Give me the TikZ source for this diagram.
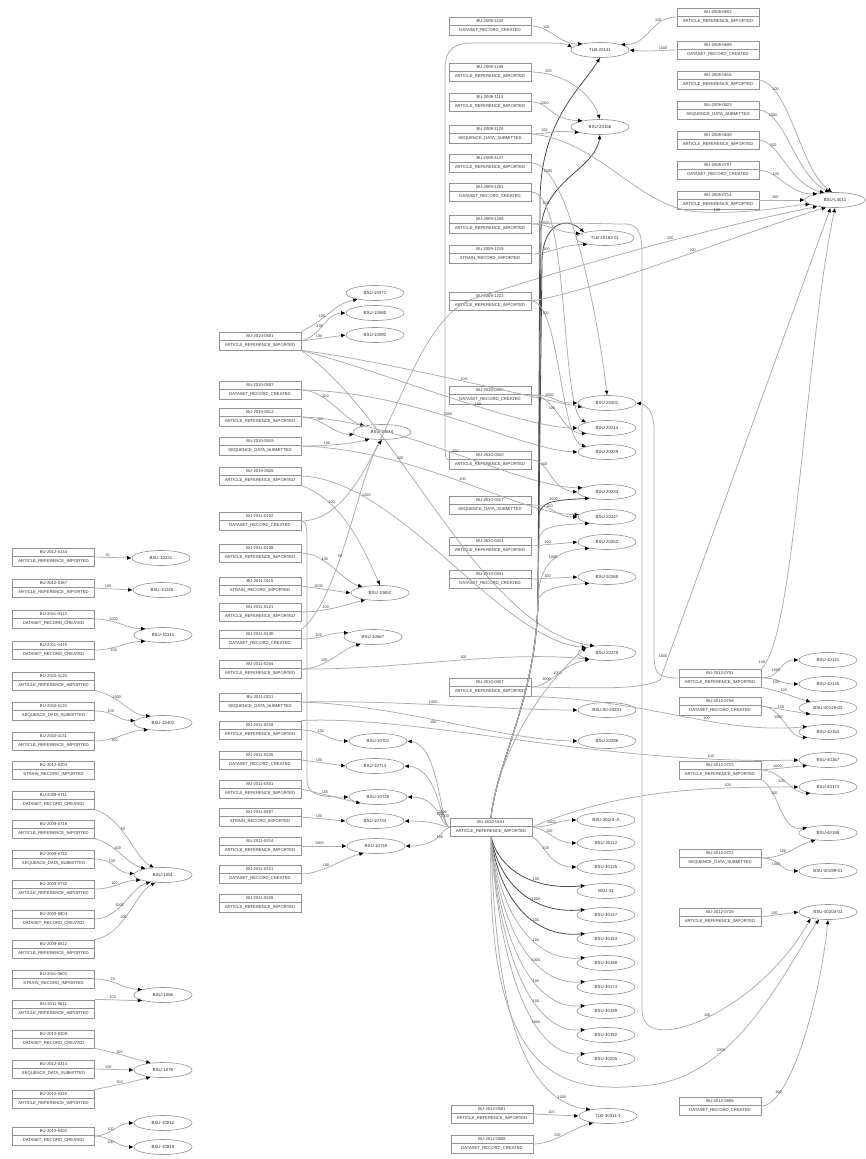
\documentclass[tikz,border=0pt]{standalone}
\usepackage{fontspec}
\setsansfont{Liberation Sans}
\usetikzlibrary{shapes.geometric,shapes.multipart,arrows.meta}
\newcommand\bt[2]{#1\nodepart{two}#2}
\begin{document}
\begin{tikzpicture}[x=1pt,y=-1pt,
 bx/.style={draw=gray!85, line width=0.6pt, rectangle split, rectangle split parts=2, minimum width=82pt, inner xsep=1pt, inner ysep=2.6pt, font=\fontsize{4.2}{5}\selectfont\sffamily, text=gray!40!black},
 el/.style={draw=gray!85, line width=0.6pt, ellipse, minimum width=58pt, minimum height=15pt, inner sep=0pt, font=\fontsize{4.4}{5}\selectfont\sffamily, text=gray!40!black},
 e/.style={draw=gray!65, line width=0.75pt, -{Latex[length=4.5pt,width=4pt,color=black]}},
 eb/.style={e, draw=gray!60!black, line width=0.8pt},
 lab/.style={font=\fontsize{3.8}{4}\selectfont\sffamily, text=gray!45!black, inner sep=0.8pt}]
\path[use as bounding box, fill=white] (0,0) rectangle (865,1159);

% ---------- left column boxes
\node[bx] (L1) at (53.5,557) {\bt{BU-2012-0134}{ARTICLE\_REFERENCE\_IMPORTED}};
\node[bx] (L2) at (53.5,588) {\bt{BU-2012-0187}{ARTICLE\_REFERENCE\_IMPORTED}};
\node[bx] (L3) at (53.5,619) {\bt{BU-2011-0412}{DATASET\_RECORD\_CREATED}};
\node[bx] (L4) at (53.5,650) {\bt{BU-2011-0419}{DATASET\_RECORD\_CREATED}};
\node[bx] (L5) at (53.5,681) {\bt{BU-2010-1120}{ARTICLE\_REFERENCE\_IMPORTED}};
\node[bx] (L6) at (53.5,711) {\bt{BU-2010-1124}{SEQUENCE\_DATA\_SUBMITTED}};
\node[bx] (L7) at (53.5,741) {\bt{BU-2010-1131}{ARTICLE\_REFERENCE\_IMPORTED}};
\node[bx] (L8) at (53.5,770) {\bt{BU-2012-0203}{STRAIN\_RECORD\_IMPORTED}};
\node[bx] (L9) at (53.5,800) {\bt{BU-2009-0711}{DATASET\_RECORD\_CREATED}};
\node[bx] (L10) at (53.5,829) {\bt{BU-2009-0716}{ARTICLE\_REFERENCE\_IMPORTED}};
\node[bx] (L11) at (53.5,859) {\bt{BU-2009-0722}{SEQUENCE\_DATA\_SUBMITTED}};
\node[bx] (L12) at (53.5,889) {\bt{BU-2009-0730}{ARTICLE\_REFERENCE\_IMPORTED}};
\node[bx] (L13) at (53.5,919) {\bt{BU-2009-0804}{DATASET\_RECORD\_CREATED}};
\node[bx] (L14) at (53.5,949) {\bt{BU-2009-0812}{ARTICLE\_REFERENCE\_IMPORTED}};
\node[bx] (L15) at (53.5,979) {\bt{BU-2011-0603}{STRAIN\_RECORD\_IMPORTED}};
\node[bx] (L16) at (53.5,1009) {\bt{BU-2011-0611}{ARTICLE\_REFERENCE\_IMPORTED}};
\node[bx] (L17) at (53.5,1039) {\bt{BU-2012-0309}{DATASET\_RECORD\_CREATED}};
\node[bx] (L18) at (53.5,1069) {\bt{BU-2012-0314}{SEQUENCE\_DATA\_SUBMITTED}};
\node[bx] (L19) at (53.5,1099) {\bt{BU-2012-0320}{ARTICLE\_REFERENCE\_IMPORTED}};
\node[bx] (L20) at (53.5,1136) {\bt{BU-2012-0402}{DATASET\_RECORD\_CREATED}};
% left ellipses
\node[el] (A1) at (161,558) {BSU-10231};
\node[el] (A2) at (162,590) {BSU-10245};
\node[el] (A3) at (163,635) {BSU-10311};
\node[el] (A4) at (163,723) {BSU-10402};
\node[el] (A5) at (163,875) {BSU-1051};
\node[el] (A6) at (163,995) {BSU-1066};
\node[el] (A7) at (163,1070) {BSU-1078};
\node[el] (A8) at (163,1123) {BSU-10812};
\node[el] (A9) at (163,1147) {BSU-10819};

% ---------- middle column boxes
\node[bx] (M0) at (260,341) {\bt{BU-2010-0501}{ARTICLE\_REFERENCE\_IMPORTED}};
\node[bx] (M1) at (260,390) {\bt{BU-2010-0507}{DATASET\_RECORD\_CREATED}};
\node[bx] (M2) at (260,417) {\bt{BU-2010-0512}{ARTICLE\_REFERENCE\_IMPORTED}};
\node[bx] (M3) at (260,446) {\bt{BU-2010-0519}{SEQUENCE\_DATA\_SUBMITTED}};
\node[bx] (M4) at (260,476) {\bt{BU-2010-0526}{ARTICLE\_REFERENCE\_IMPORTED}};
\node[bx] (M5) at (260,521) {\bt{BU-2011-0102}{DATASET\_RECORD\_CREATED}};
\node[bx] (M6) at (260,553) {\bt{BU-2011-0108}{ARTICLE\_REFERENCE\_IMPORTED}};
\node[bx] (M7) at (260,586) {\bt{BU-2011-0115}{STRAIN\_RECORD\_IMPORTED}};
\node[bx] (M8) at (260,612) {\bt{BU-2011-0121}{ARTICLE\_REFERENCE\_IMPORTED}};
\node[bx] (M9) at (260,639) {\bt{BU-2011-0130}{DATASET\_RECORD\_CREATED}};
\node[bx] (M10) at (260,669) {\bt{BU-2011-0204}{ARTICLE\_REFERENCE\_IMPORTED}};
\node[bx] (M11) at (260,702) {\bt{BU-2011-0211}{SEQUENCE\_DATA\_SUBMITTED}};
\node[bx] (M12) at (260,730) {\bt{BU-2011-0218}{ARTICLE\_REFERENCE\_IMPORTED}};
\node[bx] (M13) at (260,760) {\bt{BU-2011-0225}{DATASET\_RECORD\_CREATED}};
\node[bx] (M14) at (260,789) {\bt{BU-2011-0301}{ARTICLE\_REFERENCE\_IMPORTED}};
\node[bx] (M15) at (260,817) {\bt{BU-2011-0307}{STRAIN\_RECORD\_IMPORTED}};
\node[bx] (M16) at (260,846) {\bt{BU-2011-0314}{ARTICLE\_REFERENCE\_IMPORTED}};
\node[bx] (M17) at (260,874) {\bt{BU-2011-0321}{DATASET\_RECORD\_CREATED}};
\node[bx] (M18) at (260,903) {\bt{BU-2011-0328}{ARTICLE\_REFERENCE\_IMPORTED}};
% middle ellipses
\node[el] (B1) at (375,293) {BSU-10571};
\node[el] (B2) at (375,313) {BSU-10580};
\node[el] (B3) at (375,335) {BSU-10592};
\node[el] (C1) at (382,432) {BSU-10614};
\node[el] (C2) at (380,593) {BSU-10652};
\node[el] (C3) at (373,637) {BSU-10667};
\node[el] (D1) at (378,741) {BSU-10701};
\node[el] (D2) at (375,766) {BSU-10713};
\node[el] (D3) at (378,797) {BSU-10728};
\node[el] (D4) at (375,821) {BSU-10734};
\node[el] (D5) at (376,846) {BSU-10745};

% ---------- hub and third column
\node[bx] (H) at (491,827) {\bt{BU-2010-0101}{ARTICLE\_REFERENCE\_IMPORTED}};
\node[bx] (K1) at (490,26) {\bt{BU-2009-1102}{DATASET\_RECORD\_CREATED}};
\node[bx] (K2) at (490,72) {\bt{BU-2009-1109}{ARTICLE\_REFERENCE\_IMPORTED}};
\node[bx] (K3) at (490,102) {\bt{BU-2009-1113}{ARTICLE\_REFERENCE\_IMPORTED}};
\node[bx] (K4) at (490,134) {\bt{BU-2009-1120}{SEQUENCE\_DATA\_SUBMITTED}};
\node[bx] (K5) at (490,163) {\bt{BU-2009-1127}{ARTICLE\_REFERENCE\_IMPORTED}};
\node[bx] (K6) at (490,192) {\bt{BU-2009-1201}{DATASET\_RECORD\_CREATED}};
\node[bx] (K7) at (490,224) {\bt{BU-2009-1208}{ARTICLE\_REFERENCE\_IMPORTED}};
\node[bx] (K8) at (490,254) {\bt{BU-2009-1215}{STRAIN\_RECORD\_IMPORTED}};
\node[bx] (K9) at (490,301) {\bt{BU-2009-1222}{ARTICLE\_REFERENCE\_IMPORTED}};
\node[bx] (K10) at (490,395) {\bt{BU-2010-0303}{DATASET\_RECORD\_CREATED}};
\node[bx] (K11) at (490,460) {\bt{BU-2010-0310}{ARTICLE\_REFERENCE\_IMPORTED}};
\node[bx] (K12) at (490,505) {\bt{BU-2010-0317}{SEQUENCE\_DATA\_SUBMITTED}};
\node[bx] (K13) at (490,546) {\bt{BU-2010-0324}{ARTICLE\_REFERENCE\_IMPORTED}};
\node[bx] (K14) at (490,579) {\bt{BU-2010-0331}{DATASET\_RECORD\_CREATED}};
\node[bx] (K15) at (490,687) {\bt{BU-2010-0407}{ARTICLE\_REFERENCE\_IMPORTED}};
\node[bx] (KB1) at (492,1114) {\bt{BU-2012-0501}{ARTICLE\_REFERENCE\_IMPORTED}};
\node[bx] (KB2) at (492,1144) {\bt{BU-2012-0508}{DATASET\_RECORD\_CREATED}};
% third column ellipses
\node[el] (T1) at (600,50) {TLB-20141};
\node[el] (T2) at (600,127) {BSU-20156};
\node[el] (T3) at (605,238) {TLB-20163-01};
\node[el] (G1) at (607,403) {BSU-20201};
\node[el] (G2) at (607,428) {BSU-20214};
\node[el] (G3) at (607,452) {BSU-20229};
\node[el] (G4) at (607,492) {BSU-20233};
\node[el] (G5) at (607,517) {BSU-20247};
\node[el] (G6) at (607,542) {BSU-20252};
\node[el] (G7) at (607,577) {BSU-20268};
\node[el] (G8) at (607,653) {BSU-20275};
\node[el] (G9) at (607,710) {BSU-00-20281};
\node[el] (G10) at (607,741) {BSU-20296};
\node[el] (F1) at (606,820) {BSU-30101-A};
\node[el] (F2) at (606,843) {BSU-30112};
\node[el] (F3) at (606,867) {BSU-30125};
\node[el] (F4) at (606,891) {BSU-31};
\node[el] (F5) at (606,915) {BSU-30147};
\node[el] (F6) at (606,939) {BSU-30153};
\node[el] (F7) at (606,963) {BSU-30168};
\node[el] (F8) at (606,987) {BSU-30174};
\node[el] (F9) at (606,1011) {BSU-30189};
\node[el] (F10) at (606,1035) {BSU-30192};
\node[el] (F11) at (606,1059) {BSU-30205};
\node[el] (FB) at (608,1116) {TLB-30311-1};

% ---------- right column
\node[bx] (R1) at (718,17) {\bt{BU-2008-0602}{ARTICLE\_REFERENCE\_IMPORTED}};
\node[bx] (R2) at (718,50) {\bt{BU-2008-0609}{DATASET\_RECORD\_CREATED}};
\node[bx] (R3) at (718,80) {\bt{BU-2008-0616}{ARTICLE\_REFERENCE\_IMPORTED}};
\node[bx] (R4) at (718,110) {\bt{BU-2008-0623}{SEQUENCE\_DATA\_SUBMITTED}};
\node[bx] (R5) at (718,140) {\bt{BU-2008-0630}{ARTICLE\_REFERENCE\_IMPORTED}};
\node[bx] (R6) at (718,170) {\bt{BU-2008-0707}{DATASET\_RECORD\_CREATED}};
\node[bx] (R7) at (718,200) {\bt{BU-2008-0714}{ARTICLE\_REFERENCE\_IMPORTED}};
\node[el, minimum width=60pt] (RR) at (835,200) {BSU-L4011};
\node[bx] (RL1) at (720,678) {\bt{BU-2012-0701}{ARTICLE\_REFERENCE\_IMPORTED}};
\node[bx] (RL2) at (720,706) {\bt{BU-2012-0708}{DATASET\_RECORD\_CREATED}};
\node[bx] (RL3) at (720,770) {\bt{BU-2012-0715}{ARTICLE\_REFERENCE\_IMPORTED}};
\node[bx] (RL4) at (720,858) {\bt{BU-2012-0722}{SEQUENCE\_DATA\_SUBMITTED}};
\node[bx] (RL5) at (720,917) {\bt{BU-2012-0729}{ARTICLE\_REFERENCE\_IMPORTED}};
\node[bx] (RL6) at (720,1106) {\bt{BU-2012-0805}{DATASET\_RECORD\_CREATED}};
\node[el] (Q1) at (828,660) {BSU-40121};
\node[el] (Q2) at (828,684) {BSU-40135};
\node[el] (Q3) at (828,708) {BSU-40148-02};
\node[el] (Q4) at (828,732) {BSU-40152};
\node[el] (Q5) at (828,760) {BSU-40167};
\node[el] (Q6) at (828,787) {BSU-40173};
\node[el] (Q7) at (828,833) {BSU-40186};
\node[el] (Q8) at (828,871) {BSU-40199-01};
\node[el] (Q9) at (828,912) {BSU-40204-01};

% ================= edges =================
% left
\draw[e] (L1.east) -- node[lab,above,pos=.35]{50} (A1.west);
\draw[e] (L2.east) -- node[lab,above,pos=.35]{100} (A2.west);
\draw[e] (L3.east) .. controls +(20,0) and +(-18,0) .. node[lab,above,pos=.35]{1000} (A3.160);
\draw[e] (L4.east) .. controls +(20,0) and +(-18,0) .. node[lab,below,pos=.35]{100} (A3.200);
\draw[e] (L5.south east) .. controls +(25,5) and +(-20,0) .. node[lab,above,pos=.35]{1000} (A4.150);
\draw[e] (L6.east) .. controls +(20,0) and +(-18,0) .. node[lab,above,pos=.35]{100} (A4.175);
\draw[e] (L7.east) .. controls +(20,0) and +(-18,0) .. node[lab,below,pos=.35]{100} (A4.205);
\draw[e] (L9.south east) .. controls +(30,10) and +(-20,-10) .. node[lab,above,pos=.4]{50} (A5.140);
\draw[e] (L10.south east) .. controls +(25,8) and +(-20,-5) .. node[lab,above,pos=.4]{100} (A5.160);
\draw[e] (L11.east) .. controls +(20,0) and +(-18,0) .. node[lab,above,pos=.4]{100} (A5.177);
\draw[e] (L12.east) .. controls +(20,0) and +(-18,0) .. node[lab,above,pos=.4]{100} (A5.193);
\draw[e] (L13.east) .. controls +(25,0) and +(-20,5) .. node[lab,above,pos=.4]{1000} (A5.210);
\draw[e] (L14.north east) .. controls +(30,-5) and +(-20,10) .. node[lab,above,pos=.4]{100} (A5.225);
\draw[e] (L15.east) .. controls +(20,0) and +(-18,0) .. node[lab,above,pos=.35]{50} (A6.165);
\draw[e] (L16.north east) .. controls +(20,0) and +(-18,0) .. node[lab,above,pos=.35]{100} (A6.195);
\draw[e] (L17.south east) .. controls +(25,5) and +(-20,-5) .. node[lab,above,pos=.4]{100} (A7.150);
\draw[e] (L18.east) -- node[lab,above,pos=.35]{100} (A7.west);
\draw[e] (L19.north east) .. controls +(25,-5) and +(-20,5) .. node[lab,above,pos=.4]{100} (A7.210);
\draw[e] (L20.east) .. controls +(15,0) and +(-15,0) .. node[lab,above,pos=.4]{100} (A8.west);
\draw[e] (L20.east) .. controls +(15,0) and +(-15,0) .. node[lab,below,pos=.4]{100} (A9.west);

% middle
\draw[e] (M0.north east) .. controls +(30,-15) and +(-25,5) .. node[lab,above,pos=.3]{100} (B1.200);
\draw[e] (M0.east) .. controls +(20,-5) and +(-20,0) .. node[lab,above,pos=.4]{100} (B2.west);
\draw[e] (M0.east) -- node[lab,above,pos=.4]{100} (B3.west);
\draw[e] (M0.south east) .. controls (380,360) and (520,395) .. node[lab,above,pos=.55]{100} (G1.190);
\draw[e] (M0.south east) .. controls (380,370) and (520,428) .. node[lab,above,pos=.6]{100} (G2.west);
\draw[e] (M0.south east) .. controls (400,420) and (480,630) .. node[lab,above,pos=.35]{100} (G8.150);
\draw[e] (M1.east) .. controls +(25,0) and +(-20,-5) .. node[lab,above,pos=.35]{100} (C1.160);
\draw[e] (M2.east) .. controls +(20,0) and +(-20,0) .. node[lab,above,pos=.35]{100} (C1.185);
\draw[e] (M3.east) .. controls +(25,0) and +(-20,5) .. node[lab,above,pos=.35]{100} (C1.210);
\draw[e] (M1.east) .. controls (420,392) and (520,450) .. node[lab,above,pos=.45]{1000} (G3.west);
\draw[e] (M2.east) .. controls (400,420) and (520,488) .. node[lab,above,pos=.5]{100} (G4.170);
\draw[e] (M3.east) .. controls (420,450) and (520,515) .. node[lab,above,pos=.5]{100} (G5.175);
\draw[e] (M4.east) .. controls (400,480) and (500,640) .. node[lab,above,pos=.22]{1000} (G8.165);
\draw[e] (M4.south east) .. controls (340,500) and (360,540) .. node[lab,above,pos=.3]{100} (C2.north);
\draw[e] (M5.east) .. controls (380,520) and (400,330) .. (470,300) .. controls (560,270) and (700,230) .. node[lab,above,pos=.6]{100} (RR.200);
\draw[e] (M5.east) .. controls (307,521) and (307,530) .. (307,545) -- (307,780) .. controls (307,795) and (320,797) .. (D3.west);
\draw[e] (M6.east) .. controls +(25,0) and +(-20,-5) .. node[lab,above,pos=.35]{100} (C2.160);
\draw[e] (M7.east) -- node[lab,above,pos=.35]{1000} (C2.west);
\draw[e] (M8.east) .. controls +(25,0) and +(-20,5) .. node[lab,above,pos=.35]{100} (C2.205);
\draw[e] (M9.east) .. controls +(20,0) and +(-20,0) .. node[lab,above,pos=.35]{100} (C3.170);
\draw[e] (M10.east) .. controls +(25,0) and +(-20,5) .. node[lab,above,pos=.35]{100} (C3.210);
\draw[e] (M9.north east) .. controls (340,600) and (360,470) .. node[lab,above,pos=.4]{50} (C1.south);
\draw[e] (M10.east) .. controls (400,670) and (500,650) .. node[lab,above,pos=.55]{100} (G8.200);
\draw[e] (M11.east) .. controls (400,700) and (500,710) .. node[lab,above,pos=.45]{1000} (G9.west);
\draw[e] (M11.east) .. controls (400,705) and (500,740) .. node[lab,below,pos=.45]{100} (G10.west);
\draw[e] (M12.east) .. controls +(20,0) and +(-20,0) .. node[lab,above,pos=.4]{100} (D1.west);
\draw[e] (M12.north east) .. controls (420,715) and (600,765) .. node[lab,above,pos=.85]{100} (Q5.west);
\draw[e] (M13.east) -- node[lab,above,pos=.4]{100} (D2.west);
\draw[e] (M14.east) -- node[lab,above,pos=.4]{100} (D3.200);
\draw[e] (M15.east) -- node[lab,above,pos=.4]{100} (D4.west);
\draw[e] (M16.east) -- node[lab,above,pos=.4]{1000} (D5.west);
\draw[e] (M17.east) .. controls +(20,0) and +(-20,5) .. node[lab,above,pos=.4]{100} (D5.210);
% hub left
\draw[e] (H.west) .. controls (440,827) and (440,745) .. node[lab,above,pos=.2]{1000} (D1.east);
\draw[e] (H.west) .. controls (440,827) and (440,768) .. node[lab,above,pos=.3]{1000} (D2.east);
\draw[e] (H.west) .. controls (440,827) and (440,797) .. node[lab,above,pos=.4]{100} (D3.east);
\draw[e] (H.west) .. controls (440,827) and (440,821) .. (D4.east);
\draw[e] (H.west) .. controls (440,830) and (440,846) .. node[lab,below,pos=.4]{100} (D5.east);
% hub right fan
\draw[e] (H.east) .. controls (555,827) and (555,820) .. node[lab,above,pos=.4]{1000} (F1.west);
\draw[e] (H.east) .. controls (550,830) and (555,843) .. node[lab,above,pos=.4]{100} (F2.west);
\draw[e] (H.south east) .. controls (545,845) and (550,867) .. node[lab,above,pos=.4]{100} (F3.west);
\draw[eb] (H.south) .. controls (498,867) and (530,891) .. node[lab,above,pos=.65]{100} (F4.165);
\draw[eb] (H.south) .. controls (498,880) and (530,915) .. node[lab,above,pos=.65]{1000} (F5.165);
\draw[eb] (H.south) .. controls (498,894) and (530,939) .. node[lab,above,pos=.65]{100} (F6.165);
\draw[e] (H.south) .. controls (498,907) and (530,963) .. node[lab,above,pos=.65]{100} (F7.165);
\draw[e] (H.south) .. controls (498,920) and (530,987) .. node[lab,above,pos=.65]{1000} (F8.165);
\draw[e] (H.south) .. controls (498,933) and (530,1011) .. node[lab,above,pos=.65]{100} (F9.165);
\draw[e] (H.south) .. controls (498,946) and (530,1035) .. node[lab,above,pos=.65]{100} (F10.165);
\draw[e] (H.south) .. controls (498,960) and (530,1059) .. node[lab,above,pos=.65]{1000} (F11.165);
\draw[e] (H.south) .. controls (495,1000) and (520,1100) .. node[lab,above,pos=.85]{1000} (FB.160);
\draw[e] (KB1.east) -- node[lab,above,pos=.4]{100} (FB.west);
\draw[e] (KB2.east) .. controls +(20,0) and +(-20,5) .. node[lab,above,pos=.4]{100} (FB.205);
\draw[e] (H.south) .. controls (485,1080) and (560,1095) .. (650,1085) .. controls (740,1075) and (790,960) .. node[lab,above,pos=.3]{1000} (Q9.220);
\draw[e] (H.east) .. controls (620,790) and (700,787) .. node[lab,above,pos=.75]{100} (Q6.west);
% hub up (bundle)
\draw[eb] (H.north) .. controls (497,760) and (536,700) .. (538,600) -- (540,200) .. controls (541,120) and (580,90) .. (T1.south);
\draw[eb] (H.north) .. controls (497,760) and (536,700) .. (538,600) -- (541,230) .. controls (543,180) and (595,170) .. (T2.south);
\draw[eb] (H.north) .. controls (497,760) and (536,700) .. (538,600) -- (542,260) .. controls (543,225) and (565,215) .. (T3.north west);
\draw[eb] (H.north) .. controls (497,760) and (536,700) .. (538,600) -- (539,515) .. controls (540,500) and (560,500) .. node[lab,above,pos=.5]{1000} (G4.200);
\draw[e] (H.north) .. controls (497,760) and (536,700) .. (538,600) -- (539,540) .. controls (540,525) and (560,525) .. (G5.200);
\draw[e] (H.north) .. controls (497,760) and (536,700) .. (538,600) .. controls (539,560) and (560,550) .. node[lab,above,pos=.5]{1000} (G6.200);
\draw[e] (H.north) .. controls (497,760) and (536,700) .. (538,600) .. controls (540,590) and (560,585) .. (G7.200);
\draw[e] (H.north) .. controls (497,760) and (536,690) .. node[lab,above,pos=.8]{1000} (G8.north west);
% third column boxes
\draw[e] (K1.east) .. controls (550,26) and (560,45) .. node[lab,above,pos=.3]{100} (T1.160);
\draw[e] (K2.east) .. controls (560,72) and (590,90) .. node[lab,above,pos=.2]{100} (T2.north);
\draw[e] (K3.east) .. controls (550,102) and (550,120) .. node[lab,above,pos=.3]{1000} (T2.160);
\draw[e] (K4.east) .. controls (550,134) and (550,130) .. node[lab,above,pos=.3]{100} (T2.195);
\draw[e] (K4.east) .. controls (600,140) and (640,210) .. (700,212) .. controls (760,214) and (790,205) .. node[lab,above,pos=.1]{100} (RR.190);
\draw[e] (K5.east) .. controls (570,163) and (600,330) .. node[lab,above,pos=.15]{1000} (G1.north);
\draw[e] (K6.east) .. controls (570,192) and (560,410) .. node[lab,above,pos=.15]{100} (G2.165);
\draw[e] (K7.east) .. controls (550,224) and (555,232) .. node[lab,above,pos=.3]{1000} (T3.170);
\draw[e] (K8.east) .. controls (550,254) and (560,245) .. node[lab,above,pos=.3]{100} (T3.200);
\draw[e] (K7.east) .. controls (570,222) and (600,224) .. (625,224) .. controls (642,224) and (642,240) .. (642,260) -- (642,1010) .. controls (642,1060) and (760,1010) .. node[lab,above,pos=.5]{100} (Q9.200);
\draw[e] (K9.east) .. controls (560,301) and (560,440) .. node[lab,above,pos=.2]{100} (G3.165);
\draw[e] (K9.east) .. controls (600,290) and (750,230) .. node[lab,above,pos=.55]{100} (RR.220);
\draw[e] (K10.east) .. controls +(25,0) and +(-25,0) .. node[lab,above,pos=.35]{1000} (G1.west);
\draw[e] (K10.east) .. controls +(25,0) and +(-25,0) .. node[lab,below,pos=.35]{100} (G2.195);
\draw[e] (K11.west) .. controls (445,460) and (445,455) .. (445,440) -- (445,70) .. controls (445,48) and (455,43) .. (475,43) -- (550,43) .. controls (565,43) and (568,45) .. (T1.175);
\draw[e] (K11.east) .. controls (550,460) and (550,490) .. node[lab,above,pos=.3]{100} (G4.west);
\draw[e] (K12.east) .. controls +(25,0) and +(-25,0) .. node[lab,above,pos=.35]{100} (G5.west);
\draw[e] (K13.east) -- node[lab,above,pos=.35]{100} (G6.west);
\draw[e] (K14.east) -- node[lab,above,pos=.35]{100} (G7.west);
\draw[e] (K15.east) .. controls (550,687) and (560,665) .. node[lab,above,pos=.3]{1000} (G8.200);
\draw[e] (K15.east) .. controls (600,688) and (640,690) .. (660,680) -- node[lab,left,pos=.05]{1000} (RR.240);
\draw[e] (K15.south east) .. controls (650,700) and (720,735) .. node[lab,above,pos=.6]{100} (Q4.165);
\draw[e] (RL1.west) .. controls (655,678) and (654,672) .. (654,650) -- (654,430) .. controls (654,410) and (645,404) .. (G1.east);
% right upper
\draw[e] (R1.west) .. controls (650,17) and (650,45) .. node[lab,above,pos=.3]{100} (T1.15);
\draw[e] (R2.west) .. controls (660,50) and (650,52) .. node[lab,above,pos=.3]{1000} (T1.east);
\draw[e] (R3.east) .. controls (790,85) and (800,170) .. node[lab,above,pos=.2]{100} (RR.110);
\draw[e] (R4.east) .. controls (785,112) and (795,175) .. node[lab,above,pos=.2]{1000} (RR.125);
\draw[e] (R5.east) .. controls (780,142) and (790,185) .. node[lab,above,pos=.25]{100} (RR.145);
\draw[e] (R6.east) .. controls (780,172) and (790,195) .. node[lab,above,pos=.3]{100} (RR.160);
\draw[e] (R7.east) -- node[lab,above,pos=.35]{100} (RR.west);
% right lower
\draw[e] (RL1.east) .. controls +(20,0) and +(-20,0) .. node[lab,above,pos=.35]{1000} (Q1.west);
\draw[e] (RL1.east) .. controls +(20,0) and +(-20,0) .. node[lab,below,pos=.35]{100} (Q2.west);
\draw[e] (RL1.south east) .. controls +(25,5) and +(-20,-5) .. node[lab,above,pos=.4]{100} (Q3.160);
\draw[e] (RL2.east) -- node[lab,above,pos=.4]{100} (Q3.200);
\draw[e] (RL2.east) .. controls +(20,0) and +(-20,0) .. node[lab,below,pos=.35]{1000} (Q4.195);
\draw[e] (RL1.north east) .. controls (795,640) and (805,350) .. node[lab,left,pos=.05]{100} (RR.south);
\draw[e] (RL3.east) -- node[lab,above,pos=.35]{1000} (Q5.195);
\draw[e] (RL3.east) .. controls +(20,0) and +(-20,0) .. node[lab,below,pos=.4]{100} (Q6.200);
\draw[e] (RL3.south east) .. controls (780,790) and (780,833) .. node[lab,above,pos=.3]{100} (Q7.165);
\draw[e] (RL4.east) .. controls +(25,0) and +(-20,5) .. node[lab,above,pos=.35]{100} (Q7.210);
\draw[e] (RL4.east) .. controls +(20,0) and +(-20,0) .. node[lab,below,pos=.35]{1000} (Q8.west);
\draw[e] (RL5.east) -- node[lab,above,pos=.35]{100} (Q9.west);
\draw[e] (RL6.east) .. controls (790,1106) and (820,1000) .. node[lab,above,pos=.2]{100} (Q9.south);
\end{tikzpicture}
\end{document}
